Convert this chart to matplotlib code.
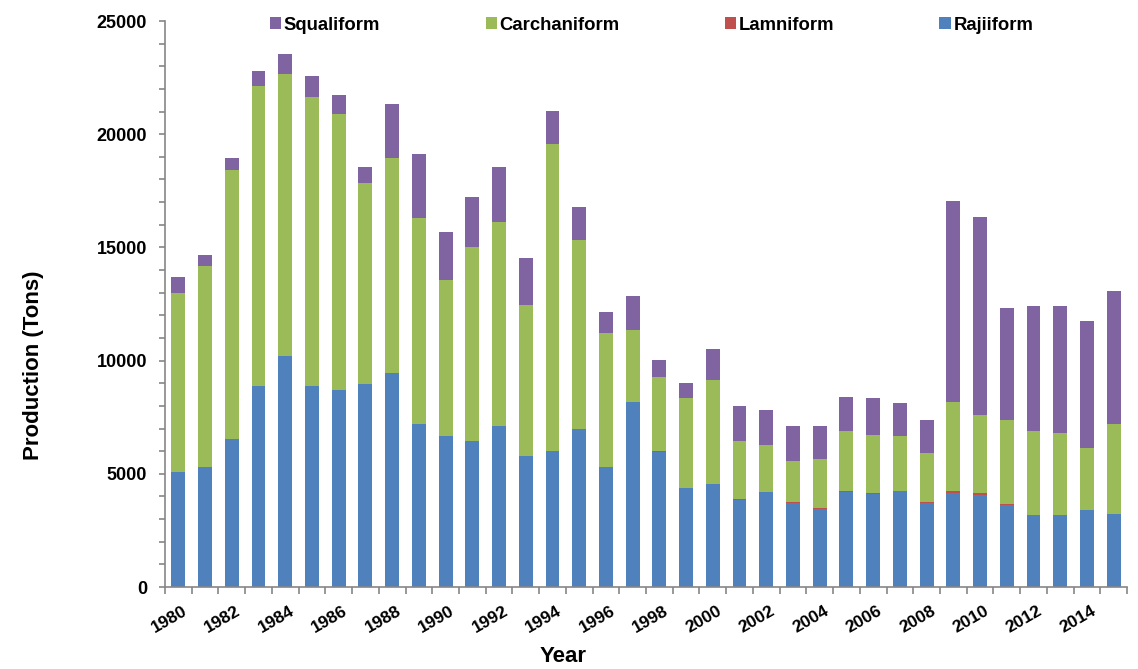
import matplotlib
matplotlib.use("Agg")
import matplotlib.pyplot as plt
import matplotlib.transforms as mtransforms
import numpy as np

plt.rcParams['font.family'] = ['Liberation Sans', 'DejaVu Sans']

years = list(range(1980, 2016))
year_labels = [str(y) for y in years]

rajiiform = [5080, 5320, 6540, 8900, 10190, 8900, 8720, 8970, 9460, 7200,
             6670, 6470, 7110, 5780, 6010, 6980, 5300, 8160, 5950, 4380,
             4530, 3830, 4190, 3700, 3460, 4210, 4100, 4260, 3720, 4170,
             4070, 3630, 3160, 3160, 3380, 3210]
lamniform = [0, 0, 0, 0, 0, 0, 0, 0, 0, 0,
             0, 0, 0, 0, 0, 0, 0, 0, 40, 0,
             0, 50, 0, 60, 50, 50, 60, 0, 50, 50,
             60, 40, 40, 40, 0, 0]
carchaniform = [7920, 8870, 11900, 13210, 12490, 12740, 12160, 8870, 9470, 9100,
                6910, 8530, 8990, 6670, 13570, 8340, 5930, 3210, 3300, 3950,
                4610, 2560, 2080, 1810, 2150, 2650, 2550, 2410, 2160, 3970,
                3450, 3710, 3670, 3610, 2750, 3970]
squaliform = [680, 490, 530, 690, 880, 910, 870, 690, 2420, 2820,
              2080, 2210, 2430, 2090, 1450, 1450, 900, 1480, 730, 690,
              1370, 1570, 1570, 1540, 1450, 1500, 1650, 1450, 1450, 8870,
              8750, 4950, 5560, 5620, 5630, 5880]

series_names = ['Rajiiform', 'Lamniform', 'Carchaniform', 'Squaliform']
series_values = [rajiiform, lamniform, carchaniform, squaliform]
colors = ['#4F81BD', '#C0504D', '#9BBB59', '#8064A2']

W, H = 1138, 669
fig = plt.figure(figsize=(W / 100, H / 100), dpi=100)
ax = fig.add_axes([165 / W, 82 / H, 962 / W, 566 / H])

x = np.arange(len(years))
bottom = np.zeros(len(years))
handles = {}
for name, vals, c in zip(series_names, series_values, colors):
    v = np.array(vals, dtype=float)
    b = ax.bar(x, v, width=0.52, bottom=bottom, color=c, label=name,
               linewidth=0, zorder=2)
    handles[name] = b
    bottom += v

ax.set_xlim(-0.5, len(years) - 0.5)
ax.set_ylim(0, 25000)

axis_col = '#868686'
for s in ['top', 'right']:
    ax.spines[s].set_visible(False)
for s in ['left', 'bottom']:
    ax.spines[s].set_color(axis_col)
    ax.spines[s].set_linewidth(1.2)

# y ticks
ax.set_yticks(np.arange(0, 25001, 5000))
ax.set_yticks(np.arange(0, 25001, 1000), minor=True)
ax.set_yticklabels([str(v) for v in range(0, 25001, 5000)],
                   fontsize=13, fontweight='bold')
ax.tick_params(axis='y', which='both', direction='out', length=4,
               color=axis_col, width=1.2, pad=9)

# x ticks: boundaries as major ticks, labels on minor ticks
ax.set_xticks(np.arange(-0.5, len(years), 1.0))
ax.set_xticklabels([])
ax.tick_params(axis='x', which='major', direction='out', length=5,
               color=axis_col, width=1.2)
ax.set_xticks(x[::2], minor=True)
ax.set_xticklabels(year_labels[::2], minor=True, rotation=30, ha='right',
                   va='top', rotation_mode='anchor', fontsize=12.5,
                   fontweight='bold')
ax.tick_params(axis='x', which='minor', length=0, pad=12)
offset = mtransforms.ScaledTranslation(4 / 100, 0, fig.dpi_scale_trans)
for lab in ax.get_xticklabels(minor=True):
    lab.set_transform(lab.get_transform() + offset)

fig.text(34 / W, 1 - 365 / H, 'Production (Tons)', rotation=90,
         ha='center', va='center', fontsize=16, fontweight='bold')
fig.text(563 / W, 1 - 657 / H, 'Year', ha='center', va='center',
         fontsize=16, fontweight='bold')

order = ['Squaliform', 'Carchaniform', 'Lamniform', 'Rajiiform']
leg = fig.legend([handles[n] for n in order], order, ncol=4,
                 loc='center left', bbox_to_anchor=(270 / W, 1 - 25 / H),
                 bbox_transform=fig.transFigure, frameon=False,
                 prop={'weight': 'bold', 'size': 13.3},
                 handlelength=0.6, handleheight=0.6, handletextpad=0.15,
                 columnspacing=5.7, borderpad=0, borderaxespad=0)

fig.savefig('out.png', dpi=100, facecolor='white')
